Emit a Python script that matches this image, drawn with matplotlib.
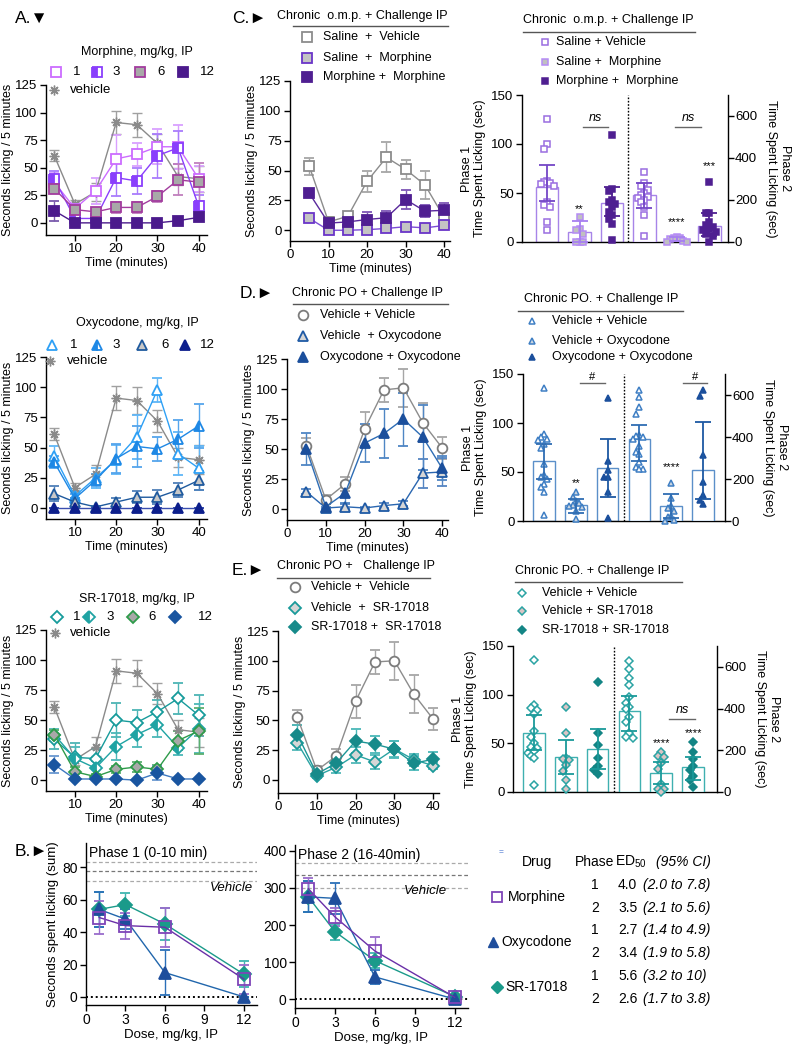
import numpy as np
import matplotlib
matplotlib.use('Agg')
import matplotlib.pyplot as plt

plt.rcParams['font.family'] = ['Liberation Sans', 'DejaVu Sans']
plt.rcParams['mathtext.fontset'] = 'custom'
plt.rcParams['mathtext.rm'] = 'Liberation Sans'
plt.rcParams['mathtext.it'] = 'Liberation Sans:italic'
plt.rcParams['axes.linewidth'] = 1.0

# ======================= DATA =======================
time_min = [5, 10, 15, 20, 25, 30, 35, 40]

# Panel A - vehicle (shared)
veh = [61, 17, 28, 91, 89, 72, 42, 40]
veh_err = [5, 4, 8, 10, 11, 9, 8, 12]
# Morphine doses
mor1 = [37, 13, 29, 58, 62, 69, 69, 40]
mor1_err = [8, 5, 12, 22, 10, 16, 20, 12]
mor3 = [40, 4, 4, 41, 38, 61, 68, 15]
mor3_err = [7, 3, 3, 17, 12, 20, 15, 10]
mor6 = [31, 12, 10, 14, 14, 24, 39, 37]
mor6_err = [4, 4, 3, 5, 5, 5, 14, 17]
mor12 = [11, 0, 0, 0, 0, 0, 2, 5]
mor12_err = [9, 2, 1, 1, 1, 1, 2, 3]
# Oxycodone doses
oxy1 = [43, 10, 25, 40, 59, 98, 45, 33]
oxy1_err = [8, 4, 8, 12, 18, 10, 18, 18]
oxy3 = [38, 8, 23, 41, 51, 49, 57, 68]
oxy3_err = [5, 4, 5, 12, 17, 10, 16, 18]
oxy6 = [12, 5, 1, 5, 9, 9, 15, 23]
oxy6_err = [6, 3, 1, 3, 5, 6, 6, 8]
oxy12 = [0, 0, 0, 0, 0, 0, 0, 0]
oxy12_err = [0, 0, 0, 0, 0, 0, 0, 0]
# SR-17018 doses
sr1 = [34, 19, 18, 50, 48, 57, 68, 54]
sr1_err = [8, 12, 8, 14, 10, 10, 13, 17]
sr3 = [38, 18, 10, 28, 38, 46, 27, 43]
sr3_err = [5, 10, 6, 11, 10, 10, 6, 20]
sr6 = [38, 7, 3, 9, 11, 9, 33, 41]
sr6_err = [4, 4, 2, 3, 4, 4, 8, 19]
sr12 = [13, 1, 1, 1, 0, 6, 1, 1]
sr12_err = [7, 1, 1, 1, 1, 6, 1, 1]
dose_labels = ['1', '3', '6', '12']

# Panel C left (time course)
c_sal_veh = [53.6, 7, 11.7, 41, 61, 51, 38, 10.6]
c_sal_veh_err = [7, 4, 4, 9, 12.5, 8, 11.5, 5]
c_sal_mor = [10, 0, 0, 0.5, 1.5, 3, 2, 4]
c_sal_mor_err = [2, 1, 1, 1, 1, 1.5, 1.5, 2]
c_mor_mor = [31, 6, 7, 9, 10.5, 25.7, 16, 16.7]
c_mor_mor_err = [3, 4, 3, 6, 6, 8, 5, 6]
c_groups = ['Saline  +  Vehicle', 'Saline  +  Morphine', 'Morphine +  Morphine']

# Panel D left
d_veh_veh = [53, 8, 21, 66.7, 99.3, 101, 72, 51]
d_veh_veh_err = [6, 4, 6, 14, 10, 16, 16, 9]
d_veh_oxy = [14.5, 1, 2, 1, 3, 4.5, 30, 31]
d_veh_oxy_err = [2, 1, 2, 1, 2, 2, 12, 12]
d_oxy_oxy = [50, 2, 13.5, 55, 63, 75, 60, 34]
d_oxy_oxy_err = [13, 2, 8, 16, 20, 22, 27, 10]
d_groups = ['Vehicle + Vehicle', 'Vehicle  + Oxycodone', 'Oxycodone + Oxycodone']

# Panel E left
e_veh_veh = [52.5, 8, 20, 66, 99, 100, 72, 51]
e_veh_veh_err = [6, 4, 6, 14, 10, 16, 16, 9]
e_veh_sr = [31, 3.5, 10.6, 21, 15, 26, 17, 12]
e_veh_sr_err = [6, 2, 5, 7, 6, 7, 5, 3]
e_sr_sr = [38, 5, 14, 32.6, 30, 25.7, 14, 17.3]
e_sr_sr_err = [8, 2, 4, 10, 7, 7, 6, 6]
e_groups = ['Vehicle +  Vehicle', 'Vehicle  +  SR-17018', 'SR-17018 +  SR-17018']

# Bar panels: individual animals (phase 1 left scale, phase 2 right scale)
c_pts = [
    [125, 100, 95, 62, 61, 60, 59, 57, 41, 38, 36, 20, 12],
    [26, 13, 12, 8, 0, 0, 0],
    [109, 54, 52, 43, 41, 39, 36, 31, 28, 23, 18, 2],
    [335, 280, 265, 250, 235, 225, 215, 210, 200, 190, 165, 130, 27],
    [24, 20, 18, 12, 5, 0, 0],
    [287, 140, 137, 95, 80, 70, 60, 55, 50, 40, 30, 0],
]
c_mean = [56, 10, 40, 224, 14, 74]
c_lo = [42, 0, 27, 161, 3, 30]
c_hi = [79, 21, 56, 283, 26, 137]

d_pts = [
    [136, 89, 86, 84, 83, 79, 74, 58, 47, 45, 43, 38, 35, 30, 6],
    [30, 24, 20, 18, 16, 15, 14, 10, 2],
    [126, 61, 52, 45, 45, 30, 3],
    [624, 589, 541, 510, 411, 405, 399, 391, 356, 330, 320, 280, 256, 250, 248],
    [180, 110, 70, 60, 50, 25, 20, 5, 0],
    [625, 597, 312, 185, 122, 98, 79],
]
d_mean = [61, 16, 54, 391, 70, 245]
d_lo = [43, 8, 24, 285, 16, 106]
d_hi = [79, 22, 84, 459, 130, 470]

e_pts = [
    [136, 89, 86, 84, 80, 63, 57, 50, 46, 45, 42, 40, 37, 35, 7],
    [87, 61, 35, 34, 33, 28, 22, 12, 3],
    [113, 61, 48, 35, 27, 23, 18],
    [627, 592, 548, 513, 457, 428, 409, 396, 361, 338, 285, 266, 258],
    [194, 175, 170, 140, 110, 40, 15, 12, 0],
    [242, 190, 158, 126, 107, 75, 59, 24],
]
e_mean = [61, 36, 44, 388, 91, 119]
e_lo = [43, 18, 24, 293, 40, 59]
e_hi = [79, 53, 65, 462, 146, 167]

# Panel B: dose response
doses = [1, 3, 6, 12]
b1_mor = [49, 44, 43, 11]
b1_mor_err = [10, 8, 12, 9]
b1_oxy = [54, 48, 15, 0]
b1_oxy_err = [11, 6, 14, 0]
b1_sr = [54, 57, 45, 14]
b1_sr_err = [11, 7, 10, 8]
b2_mor = [298, 222, 130, 5]
b2_mor_err = [30, 25, 38, 5]
b2_oxy = [276, 272, 60, 0]
b2_oxy_err = [42, 42, 18, 0]
b2_sr = [276, 182, 104, 7]
b2_sr_err = [42, 22, 20, 5]
b1_vehicle = [83, 77.5, 71.5]
b2_vehicle = [367, 334, 300]

# ED50 table
drugs = ['Morphine', 'Oxycodone', 'SR-17018']
phases = ['1', '2', '1', '2', '1', '2']
ed50 = ['4.0', '3.5', '2.7', '3.4', '5.6', '2.6']
ci95 = ['(2.0 to 7.8)', '(2.1 to 5.6)', '(1.4 to 4.9)', '(1.9 to 5.8)', '(3.2 to 10)', '(1.7 to 3.8)']

# ======================= FIGURE =======================
W, H = 800, 1050
fig = plt.figure(figsize=(8, 10.5), dpi=100)


def px_axes(l, t, r, b):
    return fig.add_axes([l / W, 1 - b / H, (r - l) / W, (b - t) / H])


def style_axes(ax, fs=9.5):
    for s in ['top', 'right']:
        ax.spines[s].set_visible(False)
    ax.tick_params(direction='out', length=4, width=1, labelsize=fs, pad=2)


def series(ax, y, e, color, marker, mfc, mec, ecolor=None, fill='full', ms=7, z=3, mew=1.3, x=time_min):
    ax.errorbar(x, y, yerr=e, color=color, ecolor=ecolor or color, marker=marker, ms=ms,
                mfc=mfc, mec=mec, mew=mew, lw=1.0, elinewidth=1.0, capsize=3.5, capthick=1.0,
                fillstyle=fill, markerfacecoloralt='white', zorder=z, clip_on=False)


AST = (8, 2, 0)
GREY = '#8a8a8a'

# ---------- Panel A ----------
A_specs = [
    ((46, 85, 207, 235), (-11, 125),
     [(mor1, mor1_err, dict(color='#cc6cff', marker='s', mfc='white', mec='#cc6cff', ecolor='#d9a0ff')),
      (mor3, mor3_err, dict(color='#8a3ffc', marker='s', mfc='#8a3ffc', mec='#8a3ffc', fill='left', ecolor='#a97cfc')),
      (mor6, mor6_err, dict(color='#a23c9e', marker='s', mfc='#a8a8a8', mec='#a23c9e', ecolor='#c07fbd')),
      (mor12, mor12_err, dict(color='#4b1a8c', marker='s', mfc='#4b1a8c', mec='#4b1a8c', ecolor='#7a5aac'))]),
    ((46, 357, 207, 519), (-9, 125),
     [(oxy1, oxy1_err, dict(color='#2ea0f5', marker='^', mfc='white', mec='#2ea0f5', ecolor='#5fb6f7')),
      (oxy3, oxy3_err, dict(color='#1e88e5', marker='^', mfc='#1e88e5', mec='#1e88e5', fill='left', ecolor='#55a5ec')),
      (oxy6, oxy6_err, dict(color='#1f5a9e', marker='^', mfc='#c8c8c8', mec='#1f5a9e', ecolor='#4f7fb8')),
      (oxy12, oxy12_err, dict(color='#3a4fb0', marker='^', mfc='#0d1f8c', mec='#0d1f8c', ecolor='#3a4fb0'))]),
    ((46, 630, 207, 791), (-9, 125),
     [(sr1, sr1_err, dict(color='#169b9b', marker='D', mfc='white', mec='#169b9b', ecolor='#4cb4b4', ms=6.5)),
      (sr3, sr3_err, dict(color='#1fa3a3', marker='D', mfc='#1fa3a3', mec='#1fa3a3', fill='left', ecolor='#4cb8b8', ms=6.5)),
      (sr6, sr6_err, dict(color='#2e9b4a', marker='D', mfc='#a8a8a8', mec='#2e9b4a', ecolor='#5cb06f', ms=6.5)),
      (sr12, sr12_err, dict(color='#3d78c0', marker='D', mfc='#1955a0', mec='#1955a0', ecolor='#6a98d0', ms=6.5))]),
]
A_axes = []
for box, yl, sers in A_specs:
    ax = px_axes(*box)
    style_axes(ax)
    series(ax, veh, veh_err, GREY, AST, GREY, GREY, ecolor='#a0a0a0', mew=1.0)
    for y, e, st in sers:
        kw = dict(st)
        series(ax, y, e, kw.pop('color'), kw.pop('marker'), kw.pop('mfc'), kw.pop('mec'), **kw)
    ax.set_xlim(3, 42)
    ax.set_ylim(*yl)
    ax.set_xticks([10, 20, 30, 40])
    ax.set_yticks([0, 25, 50, 75, 100, 125])
    ax.set_xlabel('Time (minutes)', fontsize=9, labelpad=1)
    ax.set_ylabel('Seconds licking / 5 minutes', fontsize=9, labelpad=1)
    A_axes.append(ax)

# ---------- Panels C, D, E line plots ----------
L_specs = [
    ((290, 81, 450, 241), (-9, 125),
     [(c_sal_veh, c_sal_veh_err, dict(color='#8c8c8c', marker='s', mfc='white', mec='#8c8c8c', ecolor='#a6a6a6')),
      (c_sal_mor, c_sal_mor_err, dict(color='#7c4dd6', marker='s', mfc='#c4c4c4', mec='#6a35c8', ecolor='#9b78e0')),
      (c_mor_mor, c_mor_mor_err, dict(color='#5a2a9c', marker='s', mfc='#4f1f91', mec='#4f1f91', ecolor='#7d55b5'))]),
    ((287, 359, 448, 520), (-9, 125),
     [(d_veh_veh, d_veh_veh_err, dict(color='#8c8c8c', marker='o', mfc='white', mec='#7c7c7c', ecolor='#a6a6a6')),
      (d_veh_oxy, d_veh_oxy_err, dict(color='#2a66b0', marker='^', mfc='#d6d6d6', mec='#1f5aa5', ecolor='#5585c2')),
      (d_oxy_oxy, d_oxy_oxy_err, dict(color='#2e6db5', marker='^', mfc='#1b4f9c', mec='#1b4f9c', ecolor='#4f86c4'))]),
    ((278, 631, 439, 793), (-11, 125),
     [(e_veh_veh, e_veh_veh_err, dict(color='#8c8c8c', marker='o', mfc='white', mec='#7c7c7c', ecolor='#a6a6a6')),
      (e_veh_sr, e_veh_sr_err, dict(color='#2aa3a3', marker='D', mfc='#d6d6d6', mec='#1a9a9a', ecolor='#52b8b8', ms=6.5)),
      (e_sr_sr, e_sr_sr_err, dict(color='#1c9696', marker='D', mfc='#178a8a', mec='#178a8a', ecolor='#4ab8b8', ms=6.5))]),
]
for box, yl, sers in L_specs:
    ax = px_axes(*box)
    style_axes(ax)
    for y, e, st in sers:
        kw = dict(st)
        series(ax, y, e, kw.pop('color'), kw.pop('marker'), kw.pop('mfc'), kw.pop('mec'), **kw)
    ax.set_xlim(0, 41.5)
    ax.set_ylim(*yl)
    ax.set_xticks([0, 10, 20, 30, 40])
    ax.set_yticks([0, 25, 50, 75, 100, 125])
    ax.set_xlabel('Time (minutes)', fontsize=9, labelpad=1)
    ax.set_ylabel('Seconds licking / 5 minutes', fontsize=9, labelpad=1)


# ---------- Bar panels ----------
def swarm(vals, yr, step=0.1, nmax=3):
    v = np.asarray(vals, float)
    order = np.argsort(-v, kind='stable')
    placed = []
    offs = np.zeros(len(v))
    thr = 0.045 * yr
    cands = [0]
    for k in range(1, nmax + 1):
        cands += [-k, k]
    for i in order:
        chosen = cands[-1]
        for c in cands:
            dx = c * step
            if all(abs(dx - px) >= step * 0.99 or abs(v[i] - py) >= thr for px, py in placed):
                chosen = c
                break
        offs[i] = chosen * step
        placed.append((chosen * step, v[i]))
    return offs


def bar_panel(box, xl, pts, means, lo, hi, mstyles, barcols, errcols, annots):
    ax = px_axes(*box)
    ax2 = ax.twinx()
    for s in ['top', 'right']:
        ax.spines[s].set_visible(False)
    for s in ['top', 'left', 'bottom']:
        ax2.spines[s].set_visible(False)
    ax.tick_params(direction='out', length=4, width=1, labelsize=9.5, pad=2)
    ax2.tick_params(direction='out', length=4, width=1, labelsize=9.5, pad=1)
    ax.set_xticks([])
    ax.set_xlim(*xl)
    ax2.set_xlim(*xl)
    ax.set_ylim(0, 150)
    ax2.set_ylim(0, 700)
    ax.set_yticks([0, 50, 100, 150])
    ax2.set_yticks([0, 200, 400, 600])
    for i in range(6):
        a = ax if i < 3 else ax2
        yr = 150 if i < 3 else 700
        x = i
        a.bar(x, means[i], width=0.68, facecolor='white', edgecolor=barcols[i], lw=1.0, zorder=1)
        offs = swarm(pts[i], yr)
        a.plot(x + offs, pts[i], ls='none', zorder=3, clip_on=False, **mstyles[i % 3])
        a.errorbar([x], [means[i]], yerr=[[means[i] - lo[i]], [hi[i] - means[i]]], fmt='none',
                   ecolor=errcols[i], elinewidth=1.3, capsize=6, capthick=1.3, zorder=4)
    ax.axvline(2.5, ymin=0, ymax=1, ls=(0, (1.2, 1.2)), color='black', lw=1.0)
    for kind, side, a0, a1, y, txt in annots:
        a = ax if side == 0 else ax2
        if kind == 'line':
            a.plot([a0, a1], [y, y], color='#666666', lw=1.0, zorder=5)
        else:
            a.text(a0, y, txt, ha='center', va='bottom', fontsize=a1, zorder=6,
                   style='italic' if txt == 'ns' else 'normal')
    ax.set_ylabel('Phase 1\nTime Spent Licking (sec)', fontsize=9, labelpad=4, linespacing=1.15)
    ax2.set_ylabel('Phase 2\nTime Spent Licking (sec)', fontsize=9, labelpad=6, rotation=270,
                   va='bottom', linespacing=1.15)
    return ax, ax2


c_ms = [dict(marker='s', ms=4.5, mfc='white', mec='#9a6ee0', mew=1.1),
        dict(marker='s', ms=4.5, mfc='#c0c0c0', mec='#b58cf5', mew=1.1),
        dict(marker='s', ms=4.5, mfc='#4f1f91', mec='#4f1f91', mew=1.1)]
d_ms = [dict(marker='^', ms=5, mfc='white', mec='#3f7fc4', mew=1.1),
        dict(marker='^', ms=5, mfc='#cdd6e0', mec='#3f7fc4', mew=1.1),
        dict(marker='^', ms=5, mfc='#1b4f9c', mec='#1b4f9c', mew=1.1)]
e_ms = [dict(marker='D', ms=4.2, mfc='white', mec='#2aa3a3', mew=1.1),
        dict(marker='D', ms=4.2, mfc='#d9c5c5', mec='#2aa3a3', mew=1.1),
        dict(marker='D', ms=4.2, mfc='#138585', mec='#138585', mew=1.1)]

bar_panel((522, 95, 728, 242), (-0.77, 5.57), c_pts, c_mean, c_lo, c_hi, c_ms,
          ['#a784e8'] * 6, ['#7447c6', '#a77ff0', '#4f1f91', '#7447c6', '#a77ff0', '#4f1f91'],
          [('line', 0, 1.1, 1.88, 117.7, ''), ('text', 0, 1.5, 9, 120, 'ns'),
           ('line', 1, 3.94, 4.75, 549, ''), ('text', 1, 4.35, 9, 562, 'ns'),
           ('text', 0, 1, 8, 29, '**'), ('text', 1, 4, 8, 70, '****'), ('text', 1, 5, 8, 340, '***')])

bar_panel((523, 374, 725, 521), (-0.66, 5.69), d_pts, d_mean, d_lo, d_hi, d_ms,
          ['#5b8fc9'] * 6, ['#2f6db3', '#2f6db3', '#1d58a3', '#2f6db3', '#2f6db3', '#1d58a3'],
          [('line', 0, 1.13, 1.92, 141, ''), ('text', 0, 1.5, 8, 142, '#'),
           ('line', 1, 4.37, 5.13, 658, ''), ('text', 1, 4.75, 8, 662, '#'),
           ('text', 0, 1, 8, 34, '**'), ('text', 1, 4, 8, 235, '****')])

bar_panel((513, 646, 717, 792), (-0.66, 5.75), e_pts, e_mean, e_lo, e_hi, e_ms,
          ['#3fb0b0'] * 6, ['#1a9a9a'] * 6,
          [('line', 1, 4.25, 5.06, 350, ''), ('text', 1, 4.65, 9, 362, 'ns'),
           ('text', 1, 4, 8, 212, '****'), ('text', 1, 5, 8, 260, '****')])

# ---------- Panel B ----------
B_specs = [((86, 843, 257, 1005), (-5, 95), [0, 20, 40, 60, 80], b1_vehicle,
            [(b1_sr, b1_sr_err), (b1_oxy, b1_oxy_err), (b1_mor, b1_mor_err)], 'Phase 1 (0-10 min)'),
           ((295, 845, 468, 1008), (-24, 416), [0, 100, 200, 300, 400], b2_vehicle,
            [(b2_sr, b2_sr_err), (b2_oxy, b2_oxy_err), (b2_mor, b2_mor_err)], 'Phase 2 (16-40min)')]
B_styles = [dict(color='#1a9a8a', marker='D', mfc='#1a9a8a', mec='#1a9a8a', ecolor='#3fb5b0', ms=7),
            dict(color='#2166ac', marker='^', mfc='#1f4e9c', mec='#1f4e9c', ecolor='#2a6fb8', ms=8),
            dict(color='#6a2fa8', marker='s', mfc='none', mec='#7e44b8', ecolor='#9a6ccc', ms=9)]
for bi, (box, yl, yt, vlines, sers, title) in enumerate(B_specs):
    ax = px_axes(*box)
    style_axes(ax, fs=10)
    for vi, v in enumerate(vlines):
        ax.axhline(v, ls=(0, (3, 2)), lw=0.9, color='#777777' if vi == 1 else '#aaaaaa', zorder=1)
    ax.axhline(0, ls=(0, (1, 1.5)), lw=1.4, color='black', zorder=1)
    for (y, e), st in zip(sers, B_styles):
        kw = dict(st)
        series(ax, y, e, kw.pop('color'), kw.pop('marker'), kw.pop('mfc'), kw.pop('mec'), x=doses, **kw)
    ax.set_xlim(0, 13)
    ax.set_ylim(*yl)
    ax.set_xticks([0, 3, 6, 9, 12])
    ax.set_yticks(yt)
    ax.set_xlabel('Dose, mg/kg, IP', fontsize=9.5, labelpad=1)
    if bi == 0:
        ax.set_ylabel('Seconds spent licking (sum)', fontsize=9.5, labelpad=2)
        ax.text(0.975, 0.725, 'Vehicle', transform=ax.transAxes, ha='right', va='center',
                fontsize=9.5, style='italic')
    else:
        ax.text(0.88, 0.72, 'Vehicle', transform=ax.transAxes, ha='right', va='center',
                fontsize=9.5, style='italic')
    ax.text(0.02, 0.94, title, transform=ax.transAxes, ha='left', va='center', fontsize=10)

# ======================= OVERLAY (text, legends, table) =======================
ov = fig.add_axes([0, 0, 1, 1], zorder=10)
ov.set_xlim(0, W)
ov.set_ylim(H, 0)
ov.axis('off')


def T(x, y, s, size=9, ha='left', va='center', **kw):
    ov.text(x, y, s, fontsize=size, ha=ha, va=va, **kw)


def M(x, y, **kw):
    ov.plot([x], [y], ls='none', clip_on=False, **kw)


# panel labels
T(15, 18, 'A.\u25BC', 12.5)
T(232, 18, 'C.\u25BA', 12.5)
T(240, 293, 'D.\u25BA', 12.5)
T(232, 570, 'E.\u25BA', 12.5)
T(15, 851, 'B.\u25BA', 12.5)

# A legends
A_leg = [
    (52, 72, 90, 'Morphine, mg/kg, IP', [56, 97, 140, 183], [73, 112, 157, 200], 0),
    (323, 345, 361, 'Oxycodone, mg/kg, IP', [52, 97, 142, 185], [70, 112, 161, 200], 1),
    (599, 617, 633, 'SR-17018, mg/kg, IP', [57, 89, 133, 175], [73, 106, 148, 198], 2),
]
for ty, ry, vy, title, mx, tx, k in A_leg:
    T(137, ty, title, 9, ha='center')
    for j, (y, e, st) in enumerate(A_specs[k][2]):
        fs = st.get('fill', 'full')
        M(mx[j], ry, marker=st['marker'], ms=st.get('ms', 7), mfc=st['mfc'], mec=st['mec'], mew=1.3,
          fillstyle=fs, markerfacecoloralt='white')
        T(tx[j], ry, dose_labels[j], 9.5)
    M(mx[0] - 2, vy, marker=AST, ms=7, mec=GREY, mew=1.0)
    T(tx[0] - 3, vy, 'vehicle', 9.5)

# C/D/E line legends
L_leg = [
    ('Chronic  o.m.p. + Challenge IP', 362, 16, 26, 293, 448, 307, 323, [37, 58, 77], c_groups, 0),
    ('Chronic PO + Challenge IP', 367, 293, 304, 293, 448, 303, 320, [315, 336, 357], d_groups, 1),
    ('Chronic PO +   Challenge IP', 356, 566, 578, 277, 430, 295, 311, [587, 608, 627], e_groups, 2),
]
for title, tcx, ty, uy, u0, u1, mx, tx, ys, labels, k in L_leg:
    T(tcx, ty, title, 9, ha='center')
    ov.plot([u0, u1], [uy, uy], color='#555555', lw=1.0)
    for j in range(3):
        st = L_specs[k][2][j][2]
        M(mx, ys[j], marker=st['marker'], ms=st.get('ms', 7), mfc=st['mfc'], mec=st['mec'], mew=1.3)
        T(tx, ys[j], labels[j], 9)

# bar legends
B_leg = [
    ('Chronic  o.m.p. + Challenge IP', 608, 20, 32, 523, 695, 545, 552,
     [42, 62, 81], ['Saline + Vehicle', 'Saline +  Morphine', 'Morphine +  Morphine'], c_ms),
    ('Chronic PO. + Challenge IP', 601, 299, 311, 518, 683, 532, 548,
     [321, 341, 357], ['Vehicle + Vehicle', 'Vehicle + Oxycodone', 'Oxycodone + Oxycodone'], d_ms),
    ('Chronic PO. + Challenge IP', 592, 571, 582, 515, 682, 522, 538,
     [593, 611, 630], ['Vehicle + Vehicle', 'Vehicle + SR-17018', 'SR-17018 + SR-17018'], e_ms),
]
for title, tcx, ty, uy, u0, u1, mx, tx, ys, labels, ms in B_leg:
    T(tcx, ty, title, 9, ha='center')
    ov.plot([u0, u1], [uy, uy], color='#555555', lw=1.0)
    for j in range(3):
        M(mx, ys[j], **ms[j])
        T(tx + 4, ys[j], labels[j], 9)

# ED50 table
T(501, 853, '=', 6, ha='center', color='#3366cc')
T(537, 862, 'Drug', 10, ha='center')
T(575, 862, 'Phase', 10)
T(615, 862, r'ED$_{\mathrm{50}}$', 10)
T(656, 862, '(95% CI)', 10, style='italic')
row_y = [885, 908, 930, 953, 976, 999]
for j in range(6):
    T(595, row_y[j], phases[j], 10, ha='center')
    T(618, row_y[j], ed50[j], 10)
    T(643, row_y[j], ci95[j], 10, style='italic')
drug_rows = [(497, 508, 897, dict(marker='s', ms=7, mfc='white', mec='#7e44b8', mew=1.3)),
             (493, 501, 942, dict(marker='^', ms=7, mfc='#1f4e9c', mec='#1f4e9c')),
             (497, 505, 987, dict(marker='D', ms=6, mfc='#1a9a8a', mec='#1a9a8a'))]
for (mx, tx, y, mk), name in zip(drug_rows, drugs):
    M(mx, y, **mk)
    T(tx, y, name, 10)

fig.savefig('out.png', dpi=100)
